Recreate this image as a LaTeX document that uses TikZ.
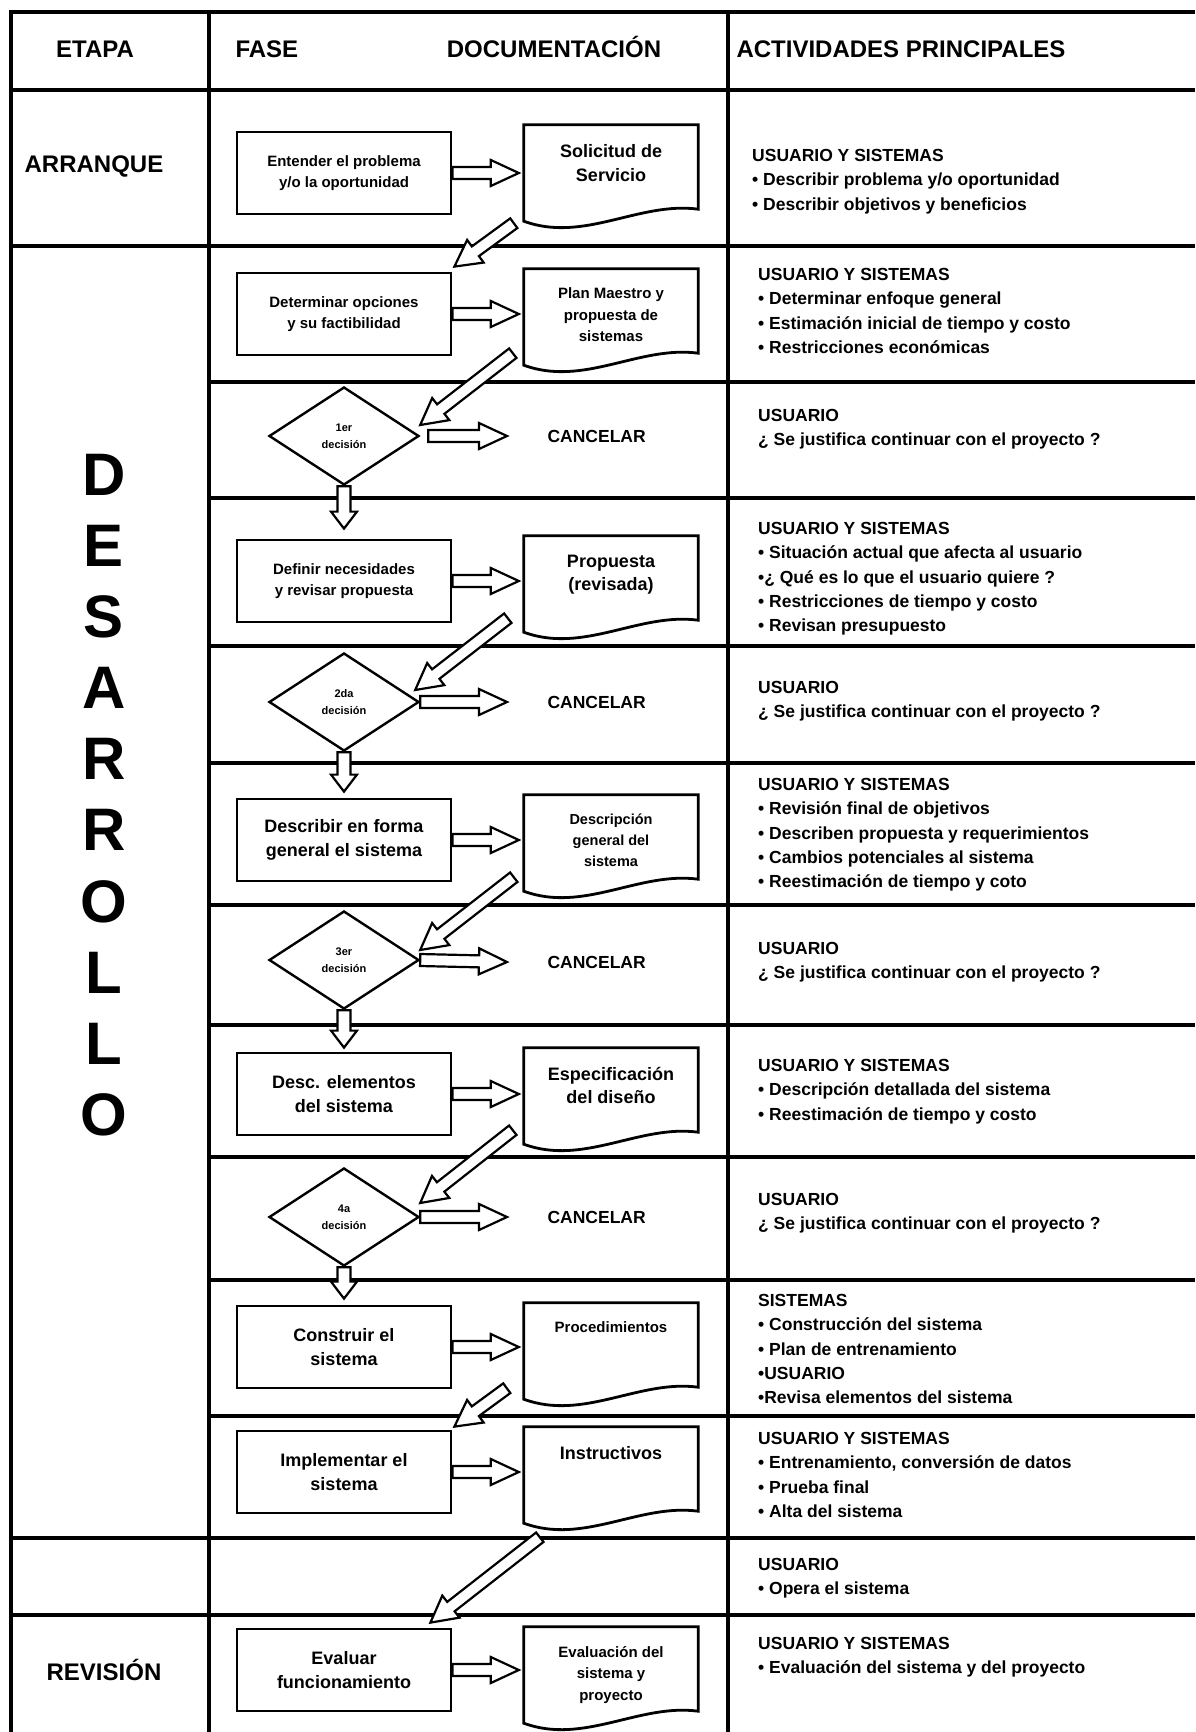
\documentclass[tikz,border=0pt]{standalone}
\usepackage{fontspec}
\setmainfont{Liberation Sans}
\usetikzlibrary{calc,shapes.geometric}
\newcommand\blockarrow[5]{%
  \path ($(#2)!#5!(#1)$) coordinate (bah);
  \draw[barrow] ($(#1)!#3!90:(#2)$) -- ($(bah)!#3!90:(#2)$) -- ($(bah)!#4!90:(#2)$) -- (#2) -- ($(bah)!#4!-90:(#2)$) -- ($(bah)!#3!-90:(#2)$) -- ($(#1)!#3!-90:(#2)$) -- cycle;}
\newcommand\docoutline[1]{%
  \draw[docline] (#1.south west) -- (#1.north west) -- (#1.north east) -- ([yshift=12pt]#1.south east)
   .. controls ([xshift=-59pt,yshift=20pt]#1.south east) and ([xshift=60pt,yshift=-22pt]#1.south west) .. (#1.south west) -- cycle;}
\newcommand\harrow[2]{\blockarrow{#1}{#2}{6pt}{13pt}{28pt}}
\newcommand\darrow[2]{\blockarrow{#1}{#2}{6pt}{14pt}{26pt}}
\newcommand\varrow[2]{\blockarrow{#1}{#2}{6.5pt}{13pt}{17pt}}
\begin{document}
\begin{tikzpicture}[x=1pt,y=-1pt,
  every node/.style={font=\bfseries},
  grid/.style={line width=3.3pt},
  proc/.style={draw,line width=2.8pt,minimum width=214pt,minimum height=82pt,inner sep=0pt,align=center},
  small/.style={font=\bfseries\fontsize{15}{21.5}\selectfont},
  large/.style={font=\bfseries\fontsize{18}{23.5}\selectfont},
  docbox/.style={minimum width=174pt,minimum height=96pt,inner sep=0pt},
  docline/.style={line width=2.8pt,line join=miter},
  doctext/.style={inner sep=0pt,align=center,anchor=north,yshift=-19pt},
  dec/.style={diamond,draw,line width=2.4pt,minimum width=150pt,minimum height=98pt,inner sep=0pt,align=center,font=\bfseries\fontsize{11}{17}\selectfont},
  barrow/.style={draw,fill=white,line width=2.2pt,line join=miter},
  cancel/.style={font=\bfseries\fontsize{17.5}{20}\selectfont},
  head/.style={font=\bfseries\fontsize{24}{26}\selectfont,anchor=base},
  act/.style={anchor=north west,inner sep=0pt,align=left,font=\bfseries\fontsize{17.5}{24.3}\selectfont}]
\useasboundingbox (0,0) rectangle (1195,1732);
% table
\draw[grid] (11,12) -- (1195,12);
\draw[grid] (11,90) -- (1195,90);
\draw[grid] (11,246) -- (1195,246);
\foreach \yy in {382,498,646,763,905,1025,1157,1280,1416}{\draw[grid] (209,\yy) -- (1195,\yy);}
\draw[grid] (11,1538) -- (1195,1538);
\draw[grid] (11,1615) -- (1195,1615);
\draw[grid] (11,10.4) -- (11,1732);
\draw[grid] (209,10.4) -- (209,1732);
\draw[grid] (728,10.4) -- (728,1732);
% headers
\node[head] (hEtapa) at (95,57.5) {ETAPA};
\node[head,anchor=base west] (hFase) at (232,57.5) {FASE};
\node[head] (hDoc) at (554,57.5) {DOCUMENTACIÓN};
\node[head,anchor=base west] (hAct) at (733,57.5) {ACTIVIDADES PRINCIPALES};
\node[head] (eArr) at (94,172) {ARRANQUE};
\node[align=center,font=\bfseries\fontsize{60}{71.1}\selectfont] (eDes) at (104,795) {D\\E\\S\\A\\R\\R\\O\\L\\L\\O};
\node[head] (eRev) at (104,1680.5) {REVISIÓN};
% process boxes
\node[proc,small] (b1) at (344,173) {Entender el problema\\y/o la oportunidad};
\node[proc,small] (b2) at (344,314) {Determinar opciones\\y su factibilidad};
\node[proc,small] (b3) at (344,581) {Definir necesidades\\y revisar propuesta};
\node[proc,large] (b4) at (344,840) {Describir en forma\\general el sistema};
\node[proc,large] (b5) at (344,1094) {Desc. elementos\\del sistema};
\node[proc,large] (b6) at (344,1347) {Construir el\\sistema};
\node[proc,large] (b7) at (344,1472) {Implementar el\\sistema};
\node[proc,large] (b8) at (344,1670) {Evaluar\\funcionamiento};
% documents
\node[docbox,label={[doctext,font=\bfseries\fontsize{18}{24}\selectfont]north:{Solicitud de\\Servicio}}] (d1) at (611,173) {};
\node[docbox,label={[doctext,small]north:{Plan Maestro y\\propuesta de\\sistemas}}] (d2) at (611,317) {};
\node[docbox,label={[doctext,large]north:{Propuesta\\(revisada)}}] (d3) at (611,584) {};
\node[docbox,label={[doctext,font=\bfseries\fontsize{14.5}{21}\selectfont]north:{Descripción\\general del\\sistema}}] (d4) at (611,843) {};
\node[docbox,label={[doctext,large]north:{Especificación\\del diseño}}] (d5) at (611,1096) {};
\node[docbox,label={[doctext,small]north:{Procedimientos}}] (d6) at (611,1351) {};
\node[docbox,label={[doctext,large]north:{Instructivos}}] (d7) at (611,1475) {};
\node[docbox,label={[doctext,small]north:{Evaluación del\\sistema y\\proyecto}}] (d8) at (611,1675) {};
\foreach \d in {d1,d2,d3,d4,d5,d6,d7,d8}{\docoutline{\d}}
% decisions
\node[dec] (q1) at (344,436) {1er\\decisión};
\node[dec] (q2) at (344,702) {2da\\decisión};
\node[dec] (q3) at (344,960) {3er\\decisión};
\node[dec] (q4) at (344,1217) {4a\\decisión};
\node[cancel,anchor=west] (c1) at (544,436) {CANCELAR};
\node[cancel,anchor=west] (c2) at (544,702) {CANCELAR};
\node[cancel,anchor=west] (c3) at (544,962) {CANCELAR};
\node[cancel,anchor=west] (c4) at (544,1217) {CANCELAR};
% horizontal arrows box -> doc
\foreach \i in {1,...,8}{
  \coordinate (hs\i) at (b\i.east);
  \coordinate (ht\i) at ($(b\i.east -| d\i.west)+(-5pt,0pt)$);
  \harrow{hs\i}{ht\i}}
% decision -> cancel
\coordinate (cs1) at ($(q1.east)+(8pt,0pt)$);
\foreach \i in {2,3,4}{\coordinate (cs\i) at (q\i.east);}
\foreach \i in {1,...,4}{
  \coordinate (ct\i) at ($(c\i.west)+(-37pt,0pt)$);
  \harrow{cs\i}{ct\i}}
% vertical arrows decision -> box
\coordinate (vs1) at (q1.south); \coordinate (vt1) at ([yshift=10pt]b3.north);
\coordinate (vs2) at (q2.south); \coordinate (vt2) at ([yshift=6pt]b4.north);
\coordinate (vs3) at (q3.south); \coordinate (vt3) at ([yshift=4pt]b5.north);
\coordinate (vs4) at (q4.south); \coordinate (vt4) at ([yshift=6pt]b6.north);
\foreach \i in {1,...,4}{\varrow{vs\i}{vt\i}}
% diagonal arrows
\coordinate (gs1) at ([xshift=-10pt,yshift=-2pt]d1.south west); \coordinate (gt1) at ([xshift=2pt,yshift=5pt]b2.north east);
\coordinate (gs2) at ([xshift=-11pt,yshift=12pt]d2.south west); \coordinate (gt2) at ([yshift=11pt]q1.east);
\coordinate (gs3) at ([xshift=-16pt,yshift=14pt]d3.south west); \coordinate (gt3) at ([xshift=-5pt,yshift=12pt]q2.east);
\coordinate (gs4) at ([xshift=-10pt,yshift=14pt]d4.south west); \coordinate (gt4) at ([yshift=10pt]q3.east);
\coordinate (gs5) at ([xshift=-11pt,yshift=14pt]d5.south west); \coordinate (gt5) at ([yshift=14pt]q4.east);
\coordinate (gs6) at ([xshift=-17pt,yshift=11pt]d6.south west); \coordinate (gt6) at ([xshift=2pt,yshift=3pt]b7.north east);
\coordinate (gs7) at ([xshift=16pt,yshift=-14pt]d7.south west); \coordinate (gt7) at ([xshift=-22pt,yshift=5pt]b8.north east);
\foreach \i in {1,...,7}{\darrow{gs\i}{gt\i}}
% activities
\node[act] (a1) at (752,149) {USUARIO Y SISTEMAS\\• Describir problema y/o oportunidad\\• Describir objetivos y beneficios};
\node[act] (a2) at (758,268) {USUARIO Y SISTEMAS\\• Determinar enfoque general\\• Estimación inicial de tiempo y costo\\• Restricciones económicas};
\node[act] (a3) at (758,409) {USUARIO\\¿ Se justifica continuar con el proyecto ?};
\node[act] (a4) at (758,522) {USUARIO Y SISTEMAS\\• Situación actual que afecta al usuario\\•¿ Qué es lo que el usuario quiere ?\\• Restricciones de tiempo y costo\\• Revisan presupuesto};
\node[act] (a5) at (758,681) {USUARIO\\¿ Se justifica continuar con el proyecto ?};
\node[act] (a6) at (758,778) {USUARIO Y SISTEMAS\\• Revisión final de objetivos\\• Describen propuesta y requerimientos\\• Cambios potenciales al sistema\\• Reestimación de tiempo y coto};
\node[act] (a7) at (758,942) {USUARIO\\¿ Se justifica continuar con el proyecto ?};
\node[act] (a8) at (758,1059) {USUARIO Y SISTEMAS\\• Descripción detallada del sistema\\• Reestimación de tiempo y costo};
\node[act] (a9) at (758,1193) {USUARIO\\¿ Se justifica continuar con el proyecto ?};
\node[act] (a10) at (758,1294) {SISTEMAS\\• Construcción del sistema\\• Plan de entrenamiento\\•USUARIO\\•Revisa elementos del sistema};
\node[act] (a11) at (758,1432) {USUARIO Y SISTEMAS\\• Entrenamiento, conversión de datos\\• Prueba final\\• Alta del sistema};
\node[act] (a12) at (758,1558) {USUARIO\\• Opera el sistema};
\node[act] (a13) at (758,1637) {USUARIO Y SISTEMAS\\• Evaluación del sistema y del proyecto};
\end{tikzpicture}
\end{document}
